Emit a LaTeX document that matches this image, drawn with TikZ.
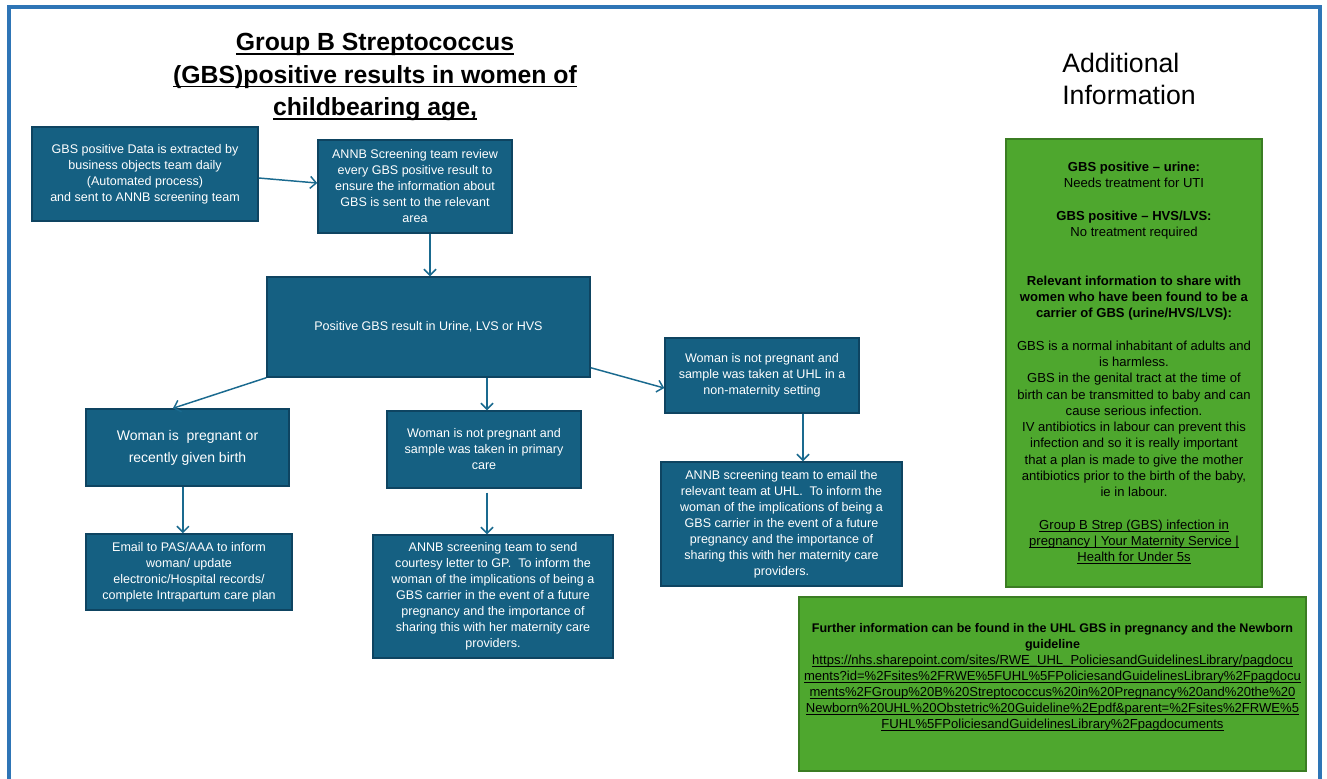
\documentclass[tikz,border=0pt]{standalone}
\usepackage{fontspec}
\setmainfont{Liberation Sans}
\usetikzlibrary{arrows.meta}
\definecolor{boxblue}{HTML}{156082}
\definecolor{boxedge}{HTML}{0E4461}
\definecolor{arrowblue}{HTML}{1A6A8F}
\definecolor{grn}{HTML}{4EA72E}
\definecolor{grnedge}{HTML}{3B7D23}
\definecolor{frameblue}{HTML}{2E75B6}
% underline: {thickness}{depth}{text}
\newcommand\myul[3]{\setbox0\hbox{#3}\rlap{\rule[-#2]{\wd0}{#1}}\box0}
\newcommand\lnk[1]{\myul{0.5pt}{1.7pt}{#1}}
\newcommand\ttl[1]{\myul{1pt}{3.2pt}{#1}}
\begin{document}
\begin{tikzpicture}[x=0.75pt,y=-0.75pt,
  flow/.style={draw=boxedge, fill=boxblue, line width=1.1pt, text=white, align=center,
    inner sep=0pt, font=\fontsize{9.4}{12}\selectfont},
  info/.style={draw=grnedge, fill=grn, line width=1.1pt, text=black, align=center,
    inner sep=0pt, font=\fontsize{9.8}{12.2}\selectfont},
  arr/.style={draw=arrowblue, line width=1.1pt, -{Straight Barb[length=4.5pt,width=9pt]}},
  heading/.style={align=center, inner sep=0pt, font=\fontsize{18.6}{24.4}\bfseries\selectfont},
  sidehead/.style={align=left, inner sep=0pt, font=\fontsize{20}{24}\selectfont}]
\useasboundingbox (0,0) rectangle (1327,778);
\clip (0,0) rectangle (1327,778);
\fill[white] (0,0) rectangle (1327,778);
\draw[frameblue, line width=3pt] (9,7) rectangle (1320,800);

% title
\node[heading] (title) at (375,77) {\ttl{Group B Streptococcus}\\
  \ttl{(GBS)positive results in women of}\\
  \ttl{childbearing age,}};
\node[sidehead, anchor=west] (addinfo) at (1062,79) {Additional\\Information};

% flow boxes
\node[flow, minimum width=169.5pt, minimum height=70.5pt] (A) at (145,174)
  {GBS positive Data is extracted by\\business objects team daily\\(Automated process)\\and sent to ANNB screening team};
\node[flow, minimum width=145.5pt, minimum height=69.75pt] (B) at (415,186.5)
  {ANNB Screening team review\\every GBS positive result to\\ensure the information about\\GBS is sent to the relevant\\area};
\node[flow, minimum width=242.25pt, minimum height=75pt] (C) at (428.5,327)
  {Positive GBS result in Urine, LVS or HVS};
\node[flow, minimum width=152.25pt, minimum height=57.75pt, font=\fontsize{10.5}{16.5}\selectfont] (D) at (187.5,447.5)
  {Woman is\ \ pregnant or\\recently given birth};
\node[flow, minimum width=145.5pt, minimum height=57.75pt] (E) at (484,449.5)
  {Woman is not pregnant and\\sample was taken in primary\\care};
\node[flow, minimum width=145.5pt, minimum height=56.25pt] (F) at (762,375.5)
  {Woman is not pregnant and\\sample was taken at UHL in a\\non-maternity setting};
\node[flow, minimum width=154.5pt, minimum height=57pt] (G) at (189,572)
  {Email to PAS/AAA to inform\\woman/ update\\electronic/Hospital records/\\complete Intrapartum care plan};
\node[flow, minimum width=180pt, minimum height=92.25pt] (H) at (493,596.5)
  {ANNB screening team to send\\courtesy letter to GP.\ \ To inform the\\woman of the implications of being a\\GBS carrier in the event of a future\\pregnancy and the importance of\\sharing this with her maternity care\\providers.};
\node[flow, minimum width=180.75pt, minimum height=93pt] (I) at (781.5,524)
  {ANNB screening team to email the\\relevant team at UHL.\ \ To inform the\\woman of the implications of being a\\GBS carrier in the event of a future\\pregnancy and the importance of\\sharing this with her maternity care\\providers.};

% info boxes
\node[info, minimum width=192pt, minimum height=336pt] (J) at (1134,363)
  {\textbf{GBS positive – urine:}\\
   Needs treatment for UTI\\[12.2pt]
   \textbf{GBS positive – HVS/LVS:}\\
   No treatment required\\[24.4pt]
   \textbf{Relevant information to share with}\\
   \textbf{women who have been found to be a}\\
   \textbf{carrier of GBS (urine/HVS/LVS):}\\[12.2pt]
   GBS is a normal inhabitant of adults and\\
   is harmless.\\
   GBS in the genital tract at the time of\\
   birth can be transmitted to baby and can\\
   cause serious infection.\\
   IV antibiotics in labour can prevent this\\
   infection and so it is really important\\
   that a plan is made to give the mother\\
   antibiotics prior to the birth of the baby,\\
   ie in labour.\\[12.2pt]
   \lnk{Group B Strep (GBS) infection in}\\
   \lnk{pregnancy | Your Maternity Service |}\\
   \lnk{Health for Under 5s}};
\node[info, minimum width=380.25pt, minimum height=130.5pt, font=\fontsize{9.8}{12}\selectfont] (K) at (1052.5,684)
  {{\fontsize{9.4}{12}\selectfont\bfseries Further information can be found in the UHL GBS in pregnancy and the Newborn}\\
   {\fontsize{9.4}{12}\selectfont\bfseries guideline}\\
   \lnk{https://nhs.sharepoint.com/sites/RWE\_UHL\_PoliciesandGuidelinesLibrary/pagdocu}\\
   \lnk{ments?id=\%2Fsites\%2FRWE\%5FUHL\%5FPoliciesandGuidelinesLibrary\%2Fpagdocu}\\
   \lnk{ments\%2FGroup\%20B\%20Streptococcus\%20in\%20Pregnancy\%20and\%20the\%20}\\
   \lnk{Newborn\%20UHL\%20Obstetric\%20Guideline\%2Epdf\&parent=\%2Fsites\%2FRWE\%5}\\
   \lnk{FUHL\%5FPoliciesandGuidelinesLibrary\%2Fpagdocuments}\\
   \mbox{}};

% connectors
\draw[arr] ([yshift=-3pt]A.east) -- ([yshift=2.6pt]B.west);
\draw[arr] ([xshift=11.25pt]B.south) -- ([xshift=11.25pt]B.south |- C.north);
\draw[arr] (C.south west) -- ([xshift=-10.9pt]D.north);
\draw[arr] ([xshift=2.25pt]E.north |- C.south) -- ([xshift=2.25pt]E.north);
\draw[arr] ([yshift=7.5pt]C.south east) -- ([yshift=-9.4pt]F.west);
\draw[arr] ([xshift=-3.4pt]D.south) -- ([xshift=-3.4pt]D.south |- G.north);
\draw[arr] ([xshift=2.25pt,yshift=-3pt]E.south) -- ([xshift=2.25pt]E.south |- H.north);
\draw[arr] ([xshift=30.75pt]F.south) -- ([xshift=30.75pt]F.south |- I.north);
\end{tikzpicture}
\end{document}
